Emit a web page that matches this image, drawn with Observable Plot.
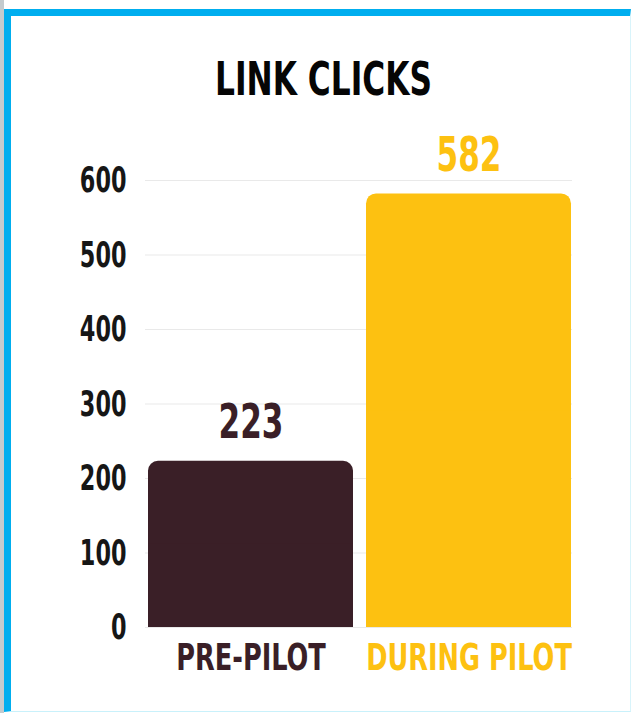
<!DOCTYPE html>
<html><head><meta charset="utf-8">
<script src="https://cdn.jsdelivr.net/npm/d3@7"></script>
<script src="https://cdn.jsdelivr.net/npm/@observablehq/plot@0.6"></script>
<style>
html,body{margin:0;padding:0;background:#fff;width:633px;height:713px;overflow:hidden;position:relative;}
#edge{position:absolute;left:0;top:0;width:4px;height:713px;background:#c4cbce;}
#frame{position:absolute;left:4px;top:9px;width:627px;height:703px;border-top:7px solid #00aeef;border-left:7px solid #00aeef;border-right:1px solid #d8f4fb;border-bottom:1px solid #c9f1fb;box-sizing:border-box;}
#title{position:absolute;left:7px;top:56px;width:633px;text-align:center;font-family:"DejaVu Sans Condensed","DejaVu Sans",sans-serif;font-weight:bold;font-stretch:condensed;font-size:46px;line-height:1;color:#050505;transform:scaleX(0.755);transform-origin:center;}
#chart{position:absolute;left:0;top:120px;}
</style></head>
<body>
<div id="edge"></div>
<div id="frame"></div>
<div id="title">LINK CLICKS</div>
<div id="chart"></div>
<script>
const categories = ["PRE-PILOT", "DURING PILOT"];
const clicks = [223, 582];
const barColors = ["#3a1f27", "#fdc111"];
const yTicks = [0, 100, 200, 300, 400, 500, 600];

const data = categories.map((c, i) => ({category: c, value: clicks[i]}));
const FONT = '"DejaVu Sans Condensed","DejaVu Sans",sans-serif';

const chart = Plot.plot({
  width: 633,
  height: 593,
  marginTop: 60,
  marginBottom: 86,
  marginLeft: 147,
  marginRight: 62,
  x: {domain: categories, paddingInner: 0.06, paddingOuter: 0, axis: null},
  y: {domain: [0, 600], axis: null},
  color: {domain: categories, range: barColors},
  style: {background: "transparent", overflow: "visible", fontFamily: FONT},
  marks: [
    Plot.ruleY(yTicks, {stroke: "#e9e9e9", strokeWidth: 1, insetLeft: -2, insetRight: -1}),
    Plot.axisY({ticks: yTicks, tickSize: 0, tickPadding: 21, label: null, fontSize: 36, fontWeight: "bold", fill: "#161616", fontFamily: FONT, className: "ytick"}),
    Plot.barY(data, {x: "category", y: "value", fill: "category", rx: 10}),
    Plot.barY(data, {x: "category", y1: 0, y2: d => d.value / 2, fill: "category"}),
    Plot.text(data, {x: "category", y: "value", text: d => String(d.value), fill: "category", lineAnchor: "bottom", dy: -23, fontSize: 48, fontWeight: "bold", fontFamily: FONT, className: "vlabel"}),
    Plot.text(data, {x: "category", frameAnchor: "bottom", text: "category", fill: "category", lineAnchor: "bottom", dy: 42, fontSize: 38, fontWeight: "bold", fontFamily: FONT, className: "xlabel"})
  ]
});

document.getElementById("chart").appendChild(chart);

// condense glyphs (no condensed display font installed)
chart.querySelectorAll("text").forEach(t => {
  const cls = (t.closest("g") && t.closest("g").getAttribute("class")) || "";
  const sx = cls.includes("xlabel") ? 0.75 : cls.includes("ytick") ? 0.69 : 0.72;
  const w = t.getComputedTextLength();
  if (w > 0) {
    t.setAttribute("textLength", (w * sx).toFixed(2));
    t.setAttribute("lengthAdjust", "spacingAndGlyphs");
  }
});
</script>
</body></html>
